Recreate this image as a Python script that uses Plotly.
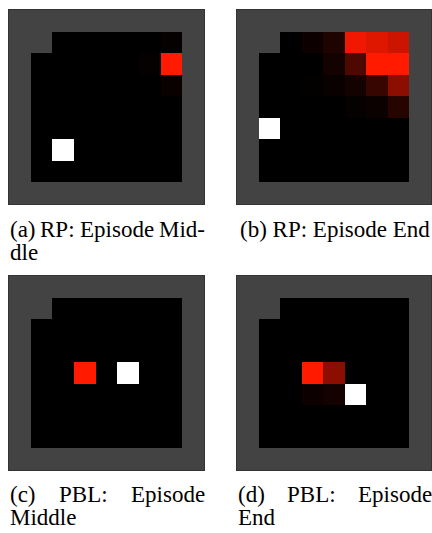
import numpy as np
import plotly.graph_objects as go

W, H = 432, 533
N = 9

# Gridworld layout: 1 = wall, 0 = free floor
WALL = [
    [1, 1, 1, 1, 1, 1, 1, 1, 1],
    [1, 1, 0, 0, 0, 0, 0, 0, 1],
    [1, 0, 0, 0, 0, 0, 0, 0, 1],
    [1, 0, 0, 0, 0, 0, 0, 0, 1],
    [1, 0, 0, 0, 0, 0, 0, 0, 1],
    [1, 0, 0, 0, 0, 0, 0, 0, 1],
    [1, 0, 0, 0, 0, 0, 0, 0, 1],
    [1, 0, 0, 0, 0, 0, 0, 0, 1],
    [1, 1, 1, 1, 1, 1, 1, 1, 1],
]

# Reward/belief intensity per cell: (row, col, value)
RP_MIDDLE_HEAT = [(2, 7, 1.00), (2, 6, 0.02), (1, 7, 0.02), (3, 7, 0.03)]
RP_END_HEAT = [
    (1, 3, 0.05), (1, 4, 0.12), (1, 5, 0.94), (1, 6, 0.88), (1, 7, 0.80),
    (2, 4, 0.08), (2, 5, 0.30), (2, 6, 1.00), (2, 7, 1.00),
    (3, 3, 0.01), (3, 4, 0.03), (3, 5, 0.07), (3, 6, 0.22), (3, 7, 0.55),
    (4, 5, 0.02), (4, 6, 0.04), (4, 7, 0.15),
]
PBL_MIDDLE_HEAT = [(4, 3, 1.00)]
PBL_END_HEAT = [(4, 3, 1.00), (4, 4, 0.55), (5, 3, 0.05), (5, 4, 0.08)]

# Agent cell (row, col)
RP_MIDDLE_AGENT = (6, 2)
RP_END_AGENT = (5, 1)
PBL_MIDDLE_AGENT = (4, 5)
PBL_END_AGENT = (5, 5)

CAPTIONS = [
    [["(a)", "RP:", "Episode", "Mid-"], ["dle"]],
    [["(b) RP: Episode End"]],
    [["(c)", "PBL:", "Episode"], ["Middle"]],
    [["(d)", "PBL:", "Episode"], ["End"]],
]

PANELS = [
    (RP_MIDDLE_HEAT, RP_MIDDLE_AGENT),
    (RP_END_HEAT, RP_END_AGENT),
    (PBL_MIDDLE_HEAT, PBL_MIDDLE_AGENT),
    (PBL_END_HEAT, PBL_END_AGENT),
]

# panel boxes in pixels: (left, right, top, bottom)
BOXES = [(9, 204, 10, 204), (237, 431, 10, 204),
         (9, 204, 276, 470), (237, 431, 276, 470)]
# caption line centres (pixels from top)
CAP_LINES = [(230, 252), (230, 252), (494, 517), (494, 517)]

WALL_COLOR = "#434343"
HEAT_SCALE = [[0, "#000000"], [1, "#ff1a00"]]
OVER_SCALE = [[0, WALL_COLOR], [0.5, WALL_COLOR], [0.5, "#ffffff"], [1, "#ffffff"]]

FONT = "Liberation Serif, Times New Roman, serif"
FS = 23
# Times advance widths (1/1000 em)
ADV = {'(': 333, ')': 333, ' ': 250, 'a': 444, 'b': 500, 'c': 444, 'd': 500,
       'e': 444, 'i': 278, 'l': 278, 'n': 500, 'o': 500, 'p': 500, 's': 389,
       'E': 611, 'M': 889, 'P': 556, 'R': 667, 'B': 667, 'L': 611, ':': 278,
       '-': 333}


def text_width(s):
    return sum(ADV.get(ch, 500) for ch in s) * FS / 1000.0


fig = go.Figure()
annotations = []

for k, ((heat, agent), (x0, x1, y0, y1)) in enumerate(zip(PANELS, BOXES)):
    z = np.zeros((N, N))
    for r, c, v in heat:
        z[r, c] = v
    over = np.full((N, N), np.nan)
    wall = np.array(WALL)
    over[wall == 1] = 0
    over[agent[0], agent[1]] = 1

    ax = "" if k == 0 else str(k + 1)
    fig.add_trace(go.Heatmap(z=z, colorscale=HEAT_SCALE, zmin=0, zmax=1,
                             showscale=False, hoverinfo="skip",
                             xaxis="x" + ax, yaxis="y" + ax))
    fig.add_trace(go.Heatmap(z=over, colorscale=OVER_SCALE, zmin=0, zmax=1,
                             showscale=False, hoverinfo="skip",
                             xaxis="x" + ax, yaxis="y" + ax))

    axis_style = dict(showgrid=False, zeroline=False, showticklabels=False,
                      ticks="", showline=True, mirror=True,
                      linecolor="#333333", linewidth=1)
    fig.layout["xaxis" + ax] = dict(domain=[x0 / W, x1 / W], range=[-0.5, N - 0.5],
                                    anchor="y" + ax, **axis_style)
    fig.layout["yaxis" + ax] = dict(domain=[1 - y1 / H, 1 - y0 / H],
                                    range=[N - 0.5, -0.5], anchor="x" + ax,
                                    **axis_style)

    # caption lines (justified words, last line left-aligned)
    lines = CAPTIONS[k]
    for li, words in enumerate(lines):
        yc = 1 - CAP_LINES[k][li] / H
        if len(words) == 1:
            w = text_width(words[0])
            if len(lines) == 1:
                xs = [(x0 + x1) / 2 - w / 2]
            else:
                xs = [x0]
        else:
            widths = [text_width(wd) for wd in words]
            gap = (x1 - x0 - sum(widths)) / (len(words) - 1)
            xs, cur = [], x0
            for wd in widths:
                xs.append(cur)
                cur += wd + gap
        for wd, xp in zip(words, xs):
            annotations.append(dict(
                text=wd, x=xp / W, y=yc, xref="paper", yref="paper",
                xanchor="left", yanchor="middle", showarrow=False,
                borderpad=0, font=dict(family=FONT, size=FS, color="#000000")))

fig.update_layout(width=W, height=H, margin=dict(l=0, r=0, t=0, b=0),
                  paper_bgcolor="#ffffff", plot_bgcolor="#ffffff",
                  showlegend=False, annotations=annotations)

fig.write_html("out.html")
